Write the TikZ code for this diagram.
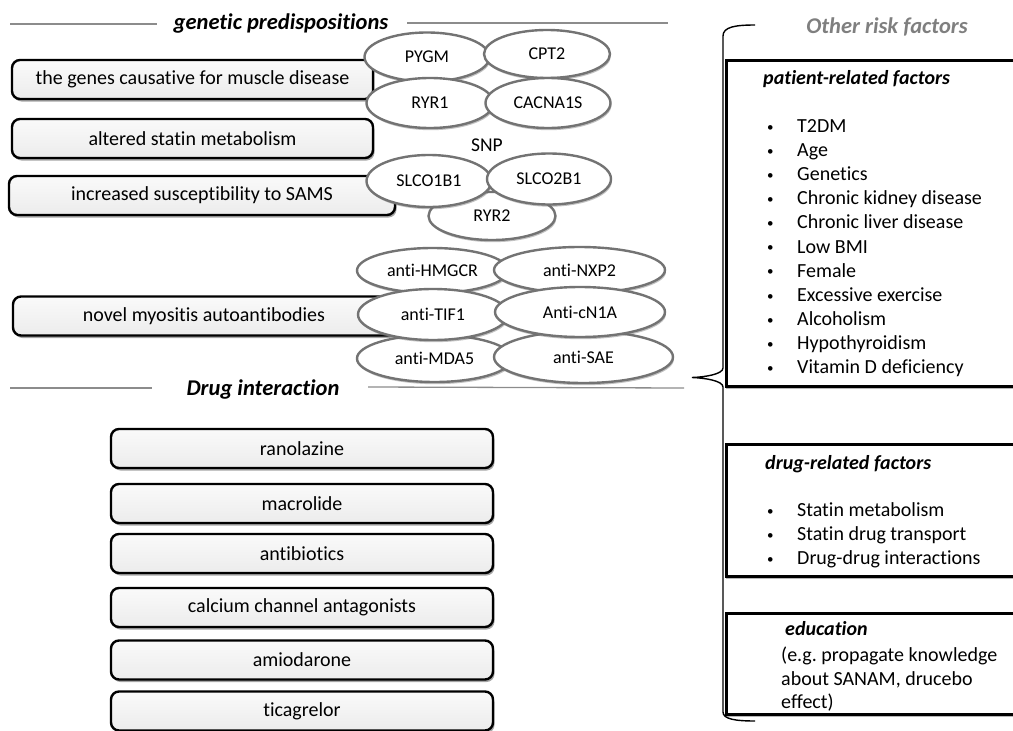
\documentclass[tikz,border=0pt]{standalone}
\usepackage{fontspec}
\setmainfont{Carlito}[Ligatures=NoCommon]
\usetikzlibrary{shadows,shapes.geometric}
\definecolor{rulegray}{HTML}{8C8C8C}
\definecolor{ellgray}{HTML}{737373}
\definecolor{titlegray}{HTML}{7F7F7F}
\newcommand\itemdot{\makebox[30pt][l]{\raisebox{1.2pt}{\fontsize{13}{13}\selectfont •}}}
\begin{document}
\frenchspacing
\begin{tikzpicture}[x=1pt,y=-1pt,
  leftbox/.style={draw=black, line width=2.4pt, rounded corners=8pt,
    top color=gray!4, bottom color=gray!15, minimum height=39pt, inner sep=0pt,
    font=\fontsize{20}{24}\selectfont,
    drop shadow={shadow xshift=1.5pt,shadow yshift=-2.5pt,opacity=0.5,fill=black!70}},
  gene/.style={ellipse, draw=ellgray, line width=2.4pt, fill=white, inner sep=0pt,
    font=\fontsize{18}{21}\selectfont,
    drop shadow={shadow xshift=1pt,shadow yshift=-2.2pt,opacity=0.4,fill=black!60}},
  sectitle/.style={font=\fontsize{22.5}{27}\selectfont\bfseries\itshape, inner sep=0pt},
  titlerule/.style={draw=rulegray, line width=1.3pt},
  riskbox/.style={draw=black, line width=2.5pt, fill=white, inner sep=0pt,
    drop shadow={shadow xshift=0pt,shadow yshift=-3pt,opacity=0.4,fill=black!70}},
  bodytext/.style={font=\fontsize{20}{24}\selectfont, inner sep=0pt, anchor=base west},
  headtext/.style={font=\fontsize{20}{24}\selectfont\bfseries\itshape, inner sep=0pt, anchor=base west},
  bracestyle/.style={draw=black, line width=1.4pt}]
\path[use as bounding box] (0,0) rectangle (1013,731);
\clip (0,0) rectangle (1013,731);

% ---------- genetic predispositions ----------
\node[sectitle] (gtitle) at (281,23) {genetic predispositions};
\coordinate (gl1) at (10,24); \coordinate (gl2) at (157,24);
\coordinate (gr1) at (407,23); \coordinate (gr2) at (668,23);
\draw[titlerule] (gl1) -- (gl2);
\draw[titlerule] (gr1) -- (gr2);

\node[leftbox, minimum width=361pt] (g1) at (192.5,79.5) {the genes causative for muscle disease};
\node[leftbox, minimum width=361pt] (g2) at (192.5,138.5) {altered statin metabolism};
\node[leftbox, minimum width=386pt] (g3) at (202,195.5) {increased susceptibility to SAMS};
\node[leftbox, minimum width=382pt] (g4) at (204,316) {novel myositis autoantibodies};

\node[gene, minimum width=125pt, minimum height=49pt] (pygm) at (427,57) {PYGM};
\node[gene, minimum width=126pt, minimum height=48pt] (cpt2) at (547,54) {CPT2};
\node[gene, minimum width=127pt, minimum height=50pt] (ryr1) at (430,103) {RYR1};
\node[gene, minimum width=125pt, minimum height=50pt] (cacna) at (548,103) {CACNA1S};
\node[font=\fontsize{19.5}{22}\selectfont, inner sep=0pt] (snp) at (487,145) {SNP};
\node[gene, minimum width=127pt, minimum height=48pt] (ryr2) at (492,216) {RYR2};
\node[gene, minimum width=125pt, minimum height=52pt] (slco1) at (429,181) {SLCO1B1};
\node[gene, minimum width=124pt, minimum height=51pt] (slco2) at (549,179) {SLCO2B1};

\node[gene, minimum width=151pt, minimum height=45pt] (hmgcr) at (432.5,270.5) {anti-HMGCR};
\node[gene, minimum width=171pt, minimum height=46pt] (nxp2) at (579.5,270) {anti-NXP2};
\node[gene, minimum width=155pt, minimum height=47pt] (mda5) at (434.5,358.5) {anti-MDA5};
\node[gene, minimum width=179pt, minimum height=52pt] (sae) at (583.5,357) {anti-SAE};
\node[gene, minimum width=150pt, minimum height=51pt] (tif1) at (433,314.5) {anti-TIF1};
\node[gene, minimum width=170pt, minimum height=50pt] (cn1a) at (580,312) {Anti-cN1A};

% ---------- Drug interaction ----------
\node[sectitle] (dtitle) at (263,389) {Drug interaction};
\coordinate (dl1) at (10,388); \coordinate (dl2) at (152,388);
\coordinate (dr1) at (368,387); \coordinate (dr2) at (684,388);
\draw[titlerule] (dl1) -- (dl2);
\draw[titlerule] (dr1) -- (dr2);

\node[leftbox, minimum width=382pt] (d1) at (302,448.5) {ranolazine};
\node[leftbox, minimum width=382pt] (d2) at (302,503.5) {macrolide};
\node[leftbox, minimum width=382pt] (d3) at (302,553.5) {antibiotics};
\node[leftbox, minimum width=382pt] (d4) at (302,607.5) {calcium channel antagonists};
\node[leftbox, minimum width=382pt] (d5) at (302,660) {amiodarone};
\node[leftbox, minimum width=382pt] (d6) at (302,711) {ticagrelor};

% ---------- Other risk factors ----------
\node[sectitle, text=titlegray] (otitle) at (887,27) {Other risk factors};

\coordinate (bt) at (755,25);
\coordinate (btip) at (692,377.5);
\coordinate (bb) at (755,721);
\draw[bracestyle] (bt) .. controls (735,25) and (723,27) .. (723,36)
  -- (723,368) .. controls (723,374) and (706,377) .. (btip)
  .. controls (706,378) and (723,381) .. (723,387)
  -- (723,712) .. controls (723,719) and (735,721) .. (bb);

\node[riskbox, minimum width=300pt, minimum height=326pt, anchor=north west] (pbox) at (725,59) {};
\node[riskbox, minimum width=300pt, minimum height=132pt, anchor=north west] (dbox) at (725,443) {};
\node[riskbox, minimum width=300pt, minimum height=101pt, anchor=north west] (ebox) at (725,612) {};

\node[headtext] (phead) at (763,84) {patient-related factors};
\foreach \t [count=\i] in {T2DM, Age, Genetics, Chronic kidney disease, Chronic liver disease,
  Low BMI, Female, Excessive exercise, Alcoholism, Hypothyroidism, Vitamin D deficiency}
  \node[bodytext] (p\i) at (767,{132.5+24.1*(\i-1)}) {\itemdot\t};

\node[headtext] (dhead) at (765,469) {drug-related factors};
\foreach \t [count=\i] in {Statin metabolism, Statin drug transport, Drug-drug interactions}
  \node[bodytext] (q\i) at (767,{516.5+24*(\i-1)}) {\itemdot\t};

\node[headtext] (ehead) at (785,635.5) {education};
\node[bodytext] (e1) at (781,661.5) {(e.g. propagate knowledge};
\node[bodytext] (e2) at (781,685) {about SANAM, drucebo};
\node[bodytext] (e3) at (781,708.5) {effect)};
\end{tikzpicture}
\end{document}
